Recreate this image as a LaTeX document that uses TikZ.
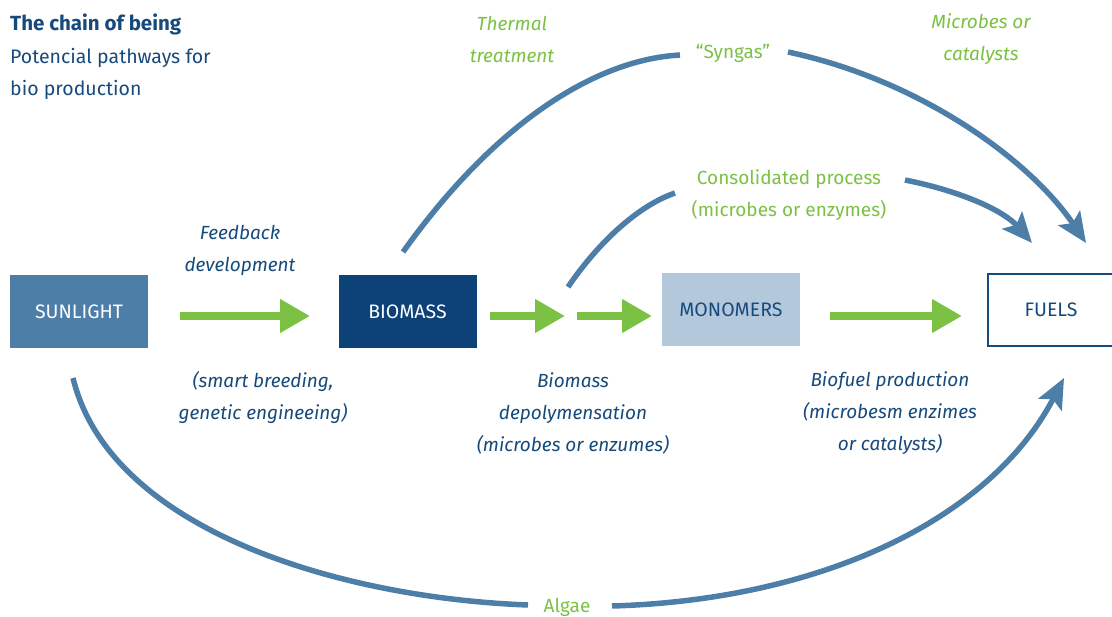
\documentclass[tikz,border=0pt]{standalone}
\usepackage{fontspec}
\setmainfont{Fira Sans}
\usetikzlibrary{arrows.meta}
\definecolor{dblue}{HTML}{174A7C}
\definecolor{boxdark}{HTML}{0C4278}
\definecolor{steel}{HTML}{4D7EA8}
\definecolor{lblue}{HTML}{B4C8DC}
\definecolor{lgreen}{HTML}{7BC143}
\tikzset{
  box/.style={minimum width=138pt, minimum height=73pt, inner sep=0pt, font=\fontsize{19.5}{22}\selectfont},
  lab/.style={align=center, font=\fontsize{19}{32}\selectfont\itshape, text=dblue},
  glab/.style={align=center, font=\fontsize{19}{32}\selectfont, text=lgreen},
  garrow/.style={draw=lgreen, line width=8pt, -{Triangle[length=30pt,width=32pt]}},
  barrow/.style={draw=steel, line width=5.5pt},
  btip/.style={-{Stealth[length=30pt,width=26pt,inset=6pt]}},
}
\begin{document}
\begin{tikzpicture}[x=1pt,y=-1pt]
\useasboundingbox (0,0) rectangle (1112,617);
% title
\node[anchor=north west, inner sep=0pt, align=left, text=dblue, font=\fontsize{19.5}{32.5}\selectfont] (title) at (10,14)
  {{\fontsize{20.5}{32.5}\selectfont\bfseries The chain of being}\\Potencial pathways for\\bio production};
% boxes
\node[box, fill=steel, text=white] (sun) at (79,312) {SUNLIGHT};
\node[box, fill=boxdark, text=white] (bio) at (407.5,312) {BIOMASS};
\node[box, fill=lblue, text=dblue] (mono) at (731,310) {MONOMERS};
\node[box, draw=dblue, line width=2pt, fill=white, text=dblue, minimum width=126pt, minimum height=72pt] (fuel) at (1051,310) {FUELS};
% green arrows
\coordinate (g1s) at (180,316); \coordinate (g1e) at (310,316);
\coordinate (g2s) at (490,316); \coordinate (g2e) at (565,316);
\coordinate (g3s) at (577,316); \coordinate (g3e) at (652,316);
\coordinate (g4s) at (830,316); \coordinate (g4e) at (962,316);
\draw[garrow] (g1s) -- (g1e);
\draw[garrow] (g2s) -- (g2e);
\draw[garrow] (g3s) -- (g3e);
\draw[garrow] (g4s) -- (g4e);
% labels
\node[lab] (fb) at (240,250) {Feedback\\development};
\node[lab] (sb) at (263,398) {(smart breeding,\\genetic engineeing)};
\node[lab] (bd) at (573,413) {Biomass\\depolymensation\\(microbes or enzumes)};
\node[lab] (bp) at (890,413) {Biofuel production\\(microbesm enzimes\\or catalysts)};
\node[glab, font=\fontsize{19}{32}\selectfont\itshape] (tt) at (512,39) {Thermal\\treatment};
\node[glab, font=\fontsize{19}{32}\selectfont\itshape] (mc) at (981,39) {Microbes or\\catalysts};
\node[glab] (syn) at (733,53) {“Syngas”};
\node[glab] (cons) at (789,195) {Consolidated process\\(microbes or enzymes)};
\node[glab] (alg) at (567,607) {Algae};
% blue curves
\coordinate (c1s) at (403,252);
\coordinate (c1e) at (680,55);
\coordinate (c2s) at (788,52);
\coordinate (c2e) at (1086,243);
\draw[barrow] (c1s) .. controls (490,130) and (590,60) .. (c1e);
\draw[barrow, btip] (c2s) .. controls (920,80) and (1030,160) .. (c2e);
\coordinate (c3s) at (568,287);
\coordinate (c3e) at (675,193);
\coordinate (c4s) at (905,180);
\coordinate (c4e) at (1032,243);
\draw[barrow] (c3s) .. controls (600,240) and (640,205) .. (c3e);
\draw[barrow, btip] (c4s) .. controls (965,192) and (1005,212) .. (c4e);
\coordinate (c5s) at (73,378);
\coordinate (c5e) at (528,605);
\coordinate (c6s) at (612,606);
\coordinate (c6e) at (1064,378);
\draw[barrow] (c5s) .. controls (110,530) and (340,598) .. (c5e);
\draw[barrow, btip] (c6s) .. controls (820,600) and (990,520) .. (c6e);
\end{tikzpicture}
\end{document}
